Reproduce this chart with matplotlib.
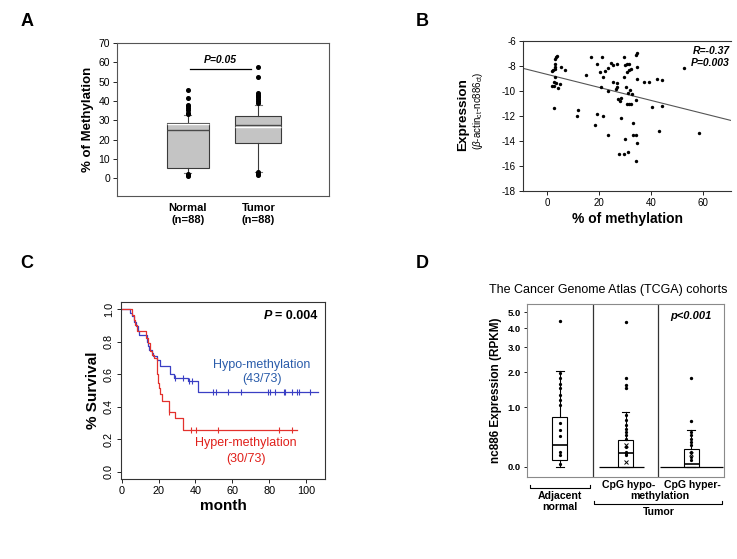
import numpy as np
import matplotlib
matplotlib.use('Agg')
import matplotlib.pyplot as plt

plt.rcParams['font.family'] = ['Liberation Sans', 'DejaVu Sans']
plt.rcParams['mathtext.fontset'] = 'custom'
plt.rcParams['mathtext.rm'] = 'Liberation Sans'
plt.rcParams['mathtext.it'] = 'Liberation Sans:italic'
plt.rcParams['mathtext.bf'] = 'Liberation Sans:bold'
plt.rcParams['axes.unicode_minus'] = False

# ---------------- data ----------------
# Panel A: % methylation box plots
a_labels = ['Normal\n(n=88)', 'Tumor\n(n=88)']
a_q1 = [5.2, 18.1]
a_med = [25.0, 27.4]
a_q3 = [28.6, 32.3]
a_whislo = [2.8, 3.4]
a_whishi = [32.8, 37.8]
a_meanline = [28.0, 26.7]
a_fliers = [[45.8, 41.5, 38.0, 37.2, 36.5, 35.5, 34.0, 33.5, 2.4, 1.8, 1.4],
            [57.6, 52.4, 44.0, 43.3, 42.6, 41.8, 41.2, 40.2, 39.0, 3.0, 2.2, 1.6]]
a_pval_y = 56.5

# Panel B: scatter methylation vs expression
meth_pct = [3.6, 4.0, 3.2, 3.0, 3.2, 2.1, 3.0, 1.7, 5.3, 6.8, 3.2, 2.8, 3.6, 4.9, 1.7, 2.6, 4.3, 2.7,
            11.4, 12.0, 14.8, 17.0, 21.0, 19.1, 20.4, 22.3, 21.7, 20.8, 19.1, 21.7, 18.4, 23.4, 23.6,
            23.6, 24.5, 25.3, 26.8, 25.3, 26.8, 26.8, 26.5, 27.5, 28.0, 28.5, 28.4,
            29.8, 30.1, 29.8, 30.7, 31.4, 30.7, 31.7, 32.4, 30.5, 31.1, 32.0, 32.6, 31.6, 32.3, 30.7,
            33.3, 30.1, 27.7, 29.7, 31.1, 33.3, 34.2, 34.6, 34.2, 34.6, 34.2, 34.6, 34.6, 34.1, 37.2,
            39.1, 40.4, 42.3, 44.3, 44.3, 43.2, 52.6, 58.5]
expr_val = [-7.26, -7.2, -7.47, -7.87, -8.06, -8.32, -8.27, -8.38, -8.06, -8.32, -8.91, -9.26, -9.34,
            -9.47, -9.63, -9.61, -9.79, -11.32,
            -11.99, -11.48, -8.73, -7.26, -7.26, -7.87, -8.51, -8.38, -8.86, -9.71, -11.85, -12.0,
            -12.73, -13.54, -9.98, -8.19, -7.79, -7.92, -7.87, -9.26, -9.39, -9.66, -9.87, -10.65,
            -10.81, -10.52, -12.15,
            -8.86, -7.92, -7.31, -7.87, -7.87, -8.46, -8.32, -8.27, -9.71, -10.2, -9.93, -10.25, -11.0,
            -11.05, -11.05, -12.55, -13.8, -15.06, -15.06, -14.87, -13.54, -13.54, -14.12, -15.62,
            -9.05, -10.68, -8.06, -6.99, -7.12, -9.26, -9.26, -11.26, -9.07, -9.13, -11.18, -13.22,
            -8.19, -13.35]
reg_intercept = -8.67
reg_slope = -0.052

# Panel C: Kaplan-Meier curves
hypo_t = [0, 4.5, 5.8, 6.9, 7.6, 8.6, 9.5, 13.6, 14.3, 15.0, 16.4, 17.2, 19.0, 20.8, 26.2, 28.4, 36.0, 41.5]
hypo_s = [1.0, 0.975, 0.955, 0.92, 0.893, 0.863, 0.842, 0.80, 0.77, 0.75, 0.73, 0.71, 0.69, 0.65, 0.60,
          0.577, 0.557, 0.49]
hypo_end = 106.7
hypo_cens = [29.0, 33.5, 36.5, 38.0, 49.7, 51.2, 57.8, 64.7, 79.2, 80.5, 83.2, 88.1, 88.8, 92.2, 95.0,
             96.4, 102.2]
hyper_t = [0, 5.6, 6.4, 7.0, 8.3, 13.2, 14.3, 15.6, 16.6, 17.6, 19.0, 19.8, 20.4, 21.0, 21.8, 25.5,
           28.9, 33.4]
hyper_s = [1.0, 0.965, 0.935, 0.90, 0.865, 0.82, 0.79, 0.74, 0.72, 0.70, 0.60, 0.545, 0.515, 0.48,
           0.433, 0.366, 0.33, 0.26]
hyper_end = 95.2
hyper_cens = [25.9, 37.4, 40.1, 52.4, 85.5, 92.2]

# Panel D: TCGA nc886 expression
d_pos = [1, 2, 3]
d_q1 = [0.08, 0.0, 0.0]
d_med = [0.29, 0.177, 0.04]
d_q3 = [0.78, 0.364, 0.238]
d_whislo = [0.0, 0.0, 0.0]
d_whishi = [2.05, 0.89, 0.54]
d_fliers = [[4.45], [4.35, 1.81, 1.58, 1.49], [1.8, 0.71]]
d_points = [[1.96, 1.81, 1.63, 1.49, 1.30, 1.17, 1.05, 0.66, 0.54, 0.43, 0.19, 0.155, 0.04],
            [0.82, 0.72, 0.62, 0.56, 0.50, 0.445, 0.39, 0.26, 0.19, 0.18, 0.17, 0.146],
            [0.50, 0.445, 0.39, 0.337, 0.287, 0.19, 0.123, 0.08]]
d_xmarks = [[], [0.287, 0.06], [0.16]]

W, H = 737, 559
fig = plt.figure(figsize=(7.37, 5.59), dpi=100)


def rect(l, t, r, b):
    return [l / W, 1 - b / H, (r - l) / W, (b - t) / H]


def style_spines(ax, color, lw=0.8):
    for s in ax.spines.values():
        s.set_color(color)
        s.set_linewidth(lw)


# ---------------- Panel A ----------------
axA = fig.add_axes(rect(117, 43, 329, 196))
statsA = []
for i in range(2):
    statsA.append(dict(med=a_med[i], q1=a_q1[i], q3=a_q3[i], whislo=a_whislo[i], whishi=a_whishi[i],
                       fliers=a_fliers[i], mean=a_meanline[i], label=a_labels[i]))
axA.bxp(statsA, positions=[1, 2], widths=[0.59, 0.65], patch_artist=True, showmeans=True,
        meanline=True,
        boxprops=dict(facecolor='#c4c4c4', edgecolor='#3a3a3a', lw=0.8),
        medianprops=dict(color='#4a4a4a', lw=1.0),
        meanprops=dict(color='white', lw=1.0, linestyle='-'),
        whiskerprops=dict(color='#3a3a3a', lw=0.8),
        capprops=dict(color='#777777', lw=0.8), capwidths=0.1,
        flierprops=dict(marker='o', markersize=2.6, markerfacecolor='black', markeredgecolor='black'))
axA.set_xlim(0, 3)
axA.set_ylim(-9.2, 70)
axA.set_yticks(np.arange(0, 71, 10))
axA.tick_params(axis='y', labelsize=7.5, length=3, width=0.6, pad=2)
axA.tick_params(axis='x', length=0, pad=5)
for lab in axA.get_xticklabels():
    lab.set_fontsize(8)
    lab.set_fontweight('bold')
axA.set_ylabel('% of Methylation', fontsize=9.5, fontweight='bold', labelpad=3)
style_spines(axA, '#555555')
axA.plot([1.03, 1.89], [a_pval_y, a_pval_y], color='black', lw=0.9)
axA.text(1.46, a_pval_y + 2.2, 'P=0.05', fontsize=7.5, fontweight='bold', fontstyle='italic',
         ha='center', va='bottom')

# ---------------- Panel B ----------------
axB = fig.add_axes(rect(523, 41, 731, 191))
axB.scatter(meth_pct, expr_val, s=6, color='black', zorder=3, linewidths=0)
xr = np.array([-9.3, 70.9])
axB.plot(xr, reg_intercept + reg_slope * xr, color='#555555', lw=0.8)
axB.set_xlim(-9.3, 70.9)
axB.set_ylim(-18, -6)
axB.set_yticks(np.arange(-18, -5, 2))
axB.set_xticks([0, 20, 40, 60])
axB.tick_params(labelsize=7, length=3, width=0.6, pad=2)
axB.spines['right'].set_visible(False)
style_spines(axB, '#333333')
axB.set_xlabel('% of methylation', fontsize=10, fontweight='bold', labelpad=3)
axB.text(0.995, 0.97, 'R=-0.37', transform=axB.transAxes, fontsize=7.5, fontweight='bold',
         fontstyle='italic', ha='right', va='top')
axB.text(0.995, 0.885, 'P=0.003', transform=axB.transAxes, fontsize=7.5, fontweight='bold',
         fontstyle='italic', ha='right', va='top')
fig.text(463.5 / W, 1 - 115 / H, 'Expression', rotation=90, fontsize=9.7, fontweight='bold',
         ha='center', va='center')
fig.text(478 / W, 1 - 111 / H, r'($\beta$-actin$_{\rm ct}$-nc886$_{\rm ct}$)', rotation=90,
         fontsize=7, ha='center', va='center')

# ---------------- Panel C ----------------
axC = fig.add_axes(rect(121, 302, 325, 479))
blue_line = '#3a3fc4'
red_line = '#e3312d'


def km(ax, t, s, end, cens, color):
    t = np.asarray(t)
    s = np.asarray(s)
    ax.step(np.append(t, end), np.append(s, s[-1]), where='post', color=color, lw=0.9)
    cs = s[np.searchsorted(t, cens, side='right') - 1]
    ax.plot(cens, cs, linestyle='none', marker='|', markersize=5, mew=0.8, color=color)


km(axC, hypo_t, hypo_s, hypo_end, hypo_cens, blue_line)
km(axC, hyper_t, hyper_s, hyper_end, hyper_cens, red_line)
axC.set_xlim(-0.4, 110.3)
axC.set_ylim(-0.043, 1.043)
axC.set_xticks(np.arange(0, 101, 20))
axC.set_yticks(np.arange(0, 1.01, 0.2))
axC.set_yticklabels(['%.1f' % v for v in np.arange(0, 1.01, 0.2)])
axC.tick_params(labelsize=7.8, length=3, width=0.6, pad=2)
axC.tick_params(axis='y', labelrotation=90)
for lab in axC.get_yticklabels():
    lab.set_va('center')
style_spines(axC, '#333333')
axC.set_xlabel('month', fontsize=11, fontweight='bold', labelpad=2)
axC.set_ylabel('% Survival', fontsize=11, fontweight='bold', labelpad=3)
pt = axC.text(0.965, 0.955, '= 0.004', transform=axC.transAxes, fontsize=9, fontweight='bold',
              ha='right', va='top')
axC.annotate('P', xy=(0, 0), xycoords=pt, xytext=(-2.5, 0), textcoords='offset points',
             fontsize=9, fontweight='bold', fontstyle='italic', ha='right', va='bottom')
axC.text(76.0, 0.655, 'Hypo-methylation', color='#2a5caa', fontsize=9, ha='center', va='center')
axC.text(76.0, 0.568, '(43/73)', color='#2a5caa', fontsize=9, ha='center', va='center')
axC.text(67.3, 0.175, 'Hyper-methylation', color='#e0201b', fontsize=9, ha='center', va='center')
axC.text(67.3, 0.077, '(30/73)', color='#e0201b', fontsize=9, ha='center', va='center')

# ---------------- Panel D ----------------
axD = fig.add_axes(rect(527, 304, 724, 477))
axD.set_yscale('function', functions=(np.log1p, np.expm1))
statsD = []
for i in range(3):
    statsD.append(dict(med=d_med[i], q1=d_q1[i], q3=d_q3[i], whislo=d_whislo[i], whishi=d_whishi[i],
                       fliers=d_fliers[i], label=''))
axD.bxp(statsD, positions=d_pos, widths=0.23, patch_artist=True,
        boxprops=dict(facecolor='white', edgecolor='black', lw=0.8),
        medianprops=dict(color='black', lw=1.2),
        whiskerprops=dict(color='black', lw=0.8),
        capprops=dict(color='black', lw=0.8), capwidths=0.12,
        flierprops=dict(marker='o', markersize=1.4, markerfacecolor='black', markeredgecolor='black'))
for i in range(3):
    axD.plot([d_pos[i]] * len(d_points[i]), d_points[i], linestyle='none', marker='o', markersize=1.3,
             color='black', zorder=4)
    if d_xmarks[i]:
        axD.plot([d_pos[i]] * len(d_xmarks[i]), d_xmarks[i], linestyle='none', marker='x',
                 markersize=3, mew=0.7, color='black', zorder=4)
# baseline at zero for the tumour groups
axD.hlines([d_whislo[1]], d_pos[1] - 0.4, d_pos[1] + 0.28, color='black', lw=0.9)
axD.hlines([d_whislo[2]], d_pos[2] - 0.48, d_pos[2] + 0.48, color='black', lw=0.9)
axD.axvline(1.5, color='#333333', lw=0.9)
axD.axvline(2.5, color='#333333', lw=0.9)
axD.set_xlim(0.5, 3.5)
axD.set_ylim(np.expm1(-0.116), np.expm1(1.888))
axD.set_yticks([0, 1, 2, 3, 4, 5])
axD.set_yticklabels(['0.0', '1.0', '2.0', '3.0', '4.0', '5.0'])
axD.yaxis.set_minor_locator(matplotlib.ticker.NullLocator())
axD.tick_params(axis='y', labelsize=6.8, length=2.5, width=0.6, pad=2)
for lab in axD.get_yticklabels():
    lab.set_fontweight('bold')
axD.set_xticks([])
style_spines(axD, '#8a8a8a')
axD.set_ylabel('nc886 Expression (RPKM)', fontsize=8.5, fontweight='bold', labelpad=4)
axD.set_title('The Cancer Genome Atlas (TCGA) cohorts', fontsize=9, pad=8, x=0.41)
axD.text(3.0, 0.93, 'p<0.001', transform=axD.get_xaxis_transform(), fontsize=8, fontweight='bold',
         fontstyle='italic', ha='center', va='center')

tr = axD.get_xaxis_transform()
# brackets
axD.plot([0.54, 0.54, 1.46, 1.46], [-0.048, -0.065, -0.065, -0.048], transform=tr, color='black',
         lw=0.8, clip_on=False)
axD.plot([1.52, 1.52, 3.47, 3.47], [-0.14, -0.158, -0.158, -0.14], transform=tr, color='black',
         lw=0.8, clip_on=False)
lbl = dict(transform=tr, fontsize=7.6, fontweight='bold', ha='center', va='center')
axD.text(1.0, -0.11, 'Adjacent', **lbl)
axD.text(1.0, -0.175, 'normal', **lbl)
axD.text(2.05, -0.048, 'CpG hypo-', **lbl)
axD.text(3.02, -0.048, 'CpG hyper-', **lbl)
axD.text(2.52, -0.11, 'methylation', **lbl)
axD.text(2.5, -0.2, 'Tumor', **lbl)

# ---------------- panel letters ----------------
for letter, x, y in [('A', 27, 22), ('B', 422, 22), ('C', 27, 264), ('D', 422, 264)]:
    fig.text(x / W, 1 - y / H, letter, fontsize=13, fontweight='bold', ha='center', va='center')

fig.savefig('out.png', dpi=100)
